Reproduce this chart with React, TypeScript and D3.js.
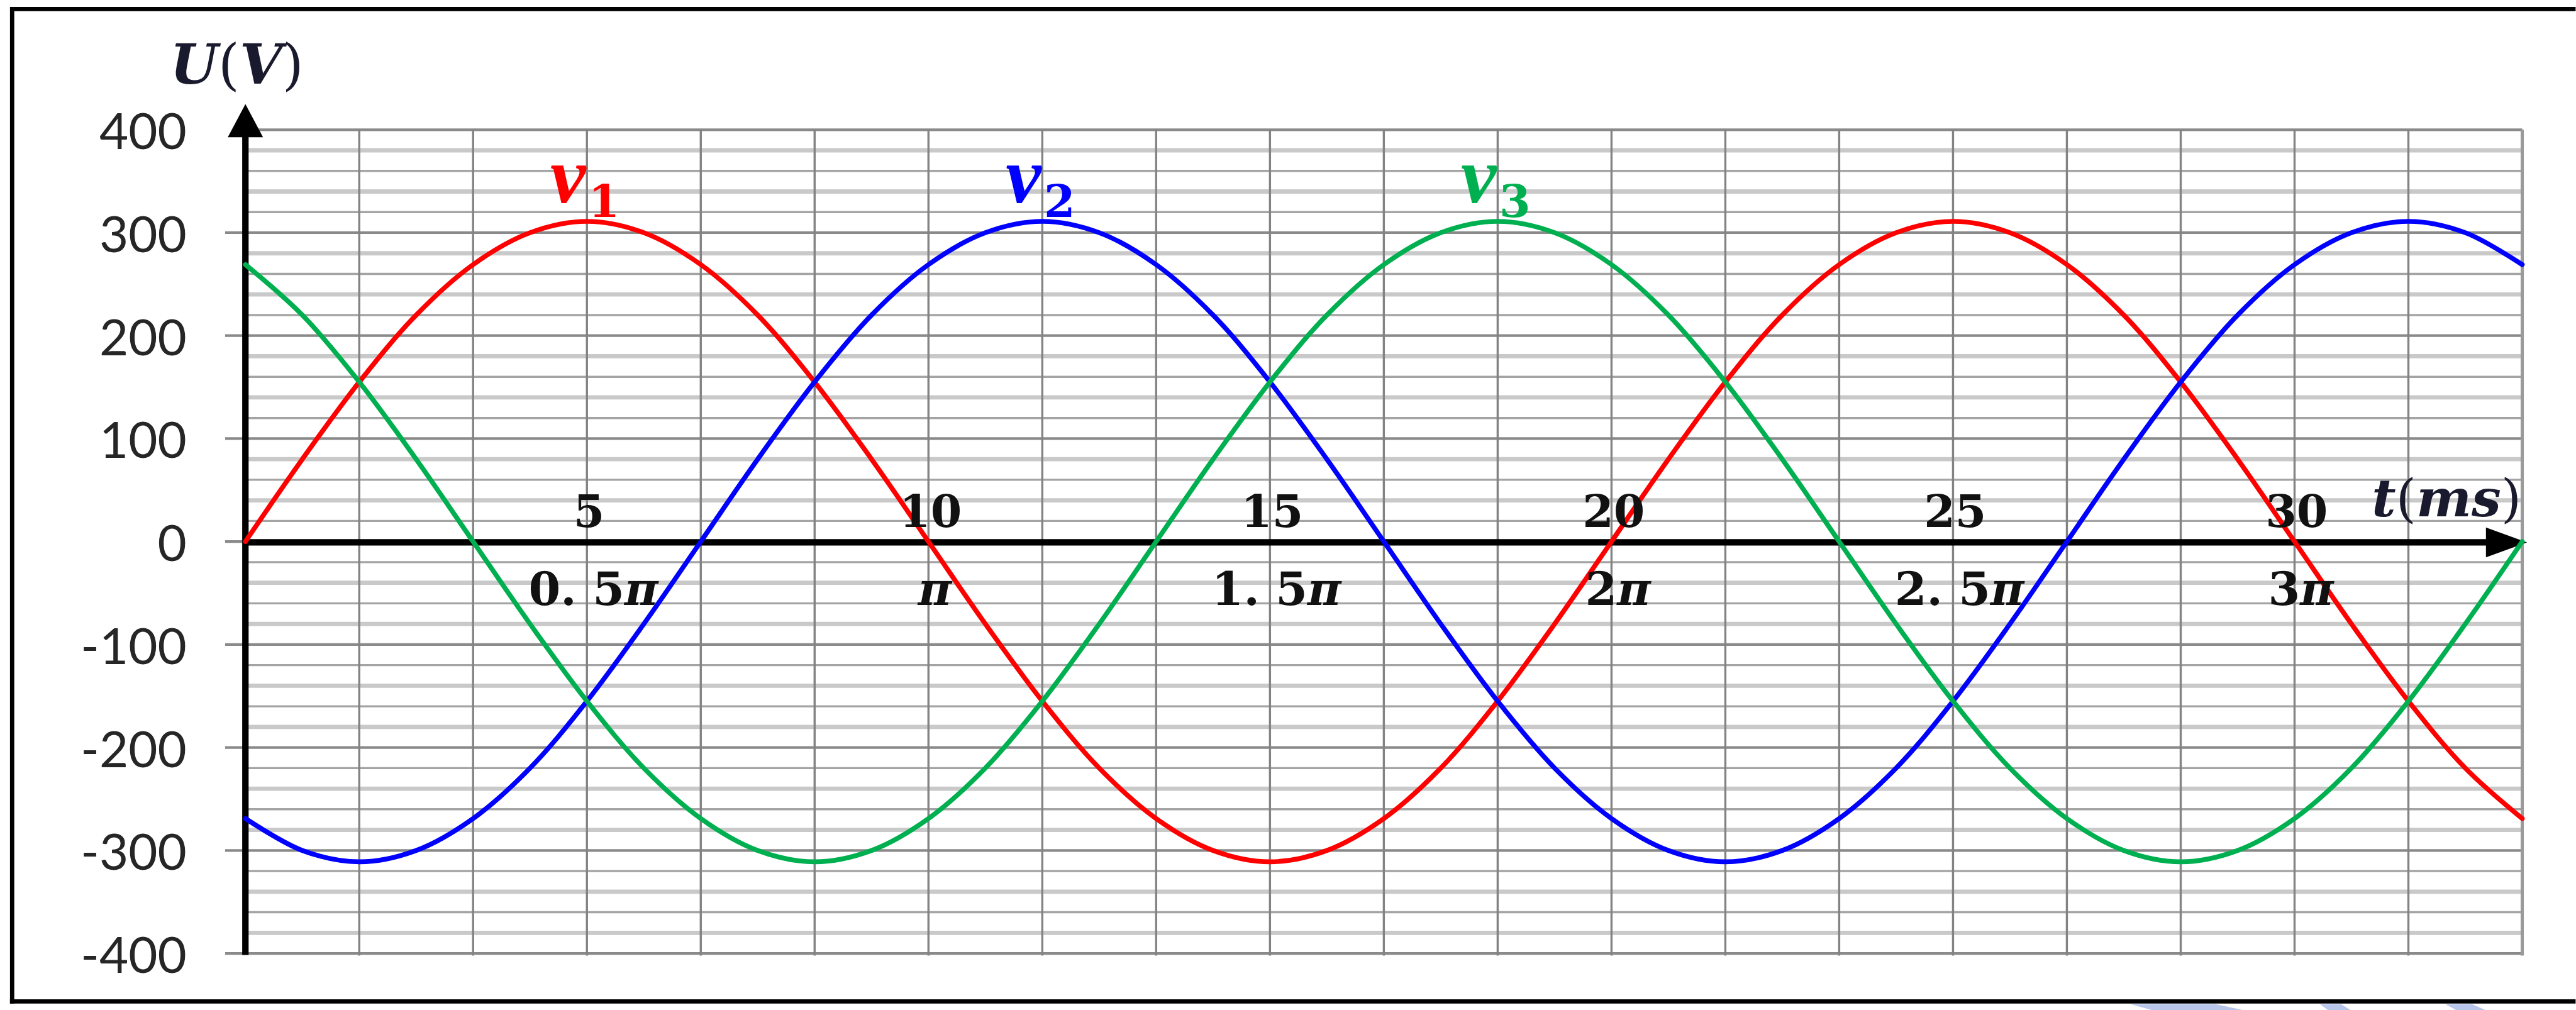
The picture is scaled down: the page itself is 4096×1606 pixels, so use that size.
import React from "react";
import * as d3 from "d3";

// Time samples (ms) for one and two-thirds periods of a 50 Hz supply.
const timeMs = [
  0, 0.833, 1.667, 2.5, 3.333, 4.167, 5, 5.833, 6.667, 7.5, 8.333, 9.167,
  10, 10.833, 11.667, 12.5, 13.333, 14.167, 15, 15.833, 16.667, 17.5, 18.333,
  19.167, 20, 20.833, 21.667, 22.5, 23.333, 24.167, 25, 25.833, 26.667, 27.5,
  28.333, 29.167, 30, 30.833, 31.667, 32.5, 33.333,
];

// Phase voltages (V).
const v1 = [
  0, 80, 155, 220, 269, 300, 311, 300, 269, 220, 155, 80, 0, -80, -155, -220,
  -269, -300, -311, -300, -269, -220, -155, -80, 0, 80, 155, 220, 269, 300,
  311, 300, 269, 220, 155, 80, 0, -80, -155, -220, -269,
];
const v2 = [
  -269, -300, -311, -300, -269, -220, -155, -80, 0, 80, 155, 220, 269, 300,
  311, 300, 269, 220, 155, 80, 0, -80, -155, -220, -269, -300, -311, -300,
  -269, -220, -155, -80, 0, 80, 155, 220, 269, 300, 311, 300, 269,
];
const v3 = [
  269, 220, 155, 80, 0, -80, -155, -220, -269, -300, -311, -300, -269, -220,
  -155, -80, 0, 80, 155, 220, 269, 300, 311, 300, 269, 220, 155, 80, 0, -80,
  -155, -220, -269, -300, -311, -300, -269, -220, -155, -80, 0,
];

const seriesValues = [v1, v2, v3];
const seriesSubscripts = ["1", "2", "3"];
const seriesColors = ["#ff0000", "#0000ff", "#00b050"];

// Axis ticks and labels.
const yTicks = [-400, -300, -200, -100, 0, 100, 200, 300, 400];
const yTickLabels = ["-400", "-300", "-200", "-100", "0", "100", "200", "300", "400"];
const xLabelTimes = [5, 10, 15, 20, 25, 30];
const xTimeLabels = ["5", "10", "15", "20", "25", "30"];
const xPhaseCoefs = ["0. 5", "", "1. 5", "2", "2. 5", "3"];

const W = 4824;
const H = 1892;

const PLOT_L = 459;
const PLOT_R = 4724;
const PLOT_T = 243;
const PLOT_B = 1786;

const sansFont = "Lato, 'Open Sans', sans-serif";
const serifFont = "'DejaVu Serif', serif";
const mathFont = "'Liberation Serif', serif";

export default function App() {
  const x = d3.scaleLinear().domain([0, 100 / 3]).range([PLOT_L, PLOT_R]);
  const y = d3.scaleLinear().domain([-400, 400]).range([PLOT_B, PLOT_T]);

  const line = d3
    .line<number>()
    .x((_, i) => x(timeMs[i]))
    .y((d) => y(d))
    .curve(d3.curveCatmullRom.alpha(0.5));

  // Horizontal grid: major every 100 V, minor every 20 V.
  const minorVals = d3.range(-380, 400, 20).filter((v) => v % 100 !== 0);
  const verticalGrid = d3.range(1, 21).map((i) => (i * 5) / 3);

  const y0 = y(0) + 1.5;

  return (
    <div style={{ position: "fixed", left: 0, top: 0 }}>
      <svg
        width={4096}
        height={1606}
        viewBox={`0 0 ${W} ${H}`}
        style={{ display: "block", background: "#ffffff" }}
      >
        <rect x={0} y={0} width={W} height={H} fill="#ffffff" />

        {/* minor horizontal grid */}
        {minorVals.map((v) => {
          const r = Math.abs(v) % 100;
          const light = r === 40 || r === 80;
          return (
            <line
              key={`mn${v}`}
              x1={PLOT_L}
              x2={PLOT_R}
              y1={y(v)}
              y2={y(v)}
              stroke={light ? "#c9c9c9" : "#a4a4a4"}
              strokeWidth={light ? 8 : 4}
            />
          );
        })}

        {/* major horizontal grid with short ticks left of the axis */}
        {yTicks.map((v) => (
          <line
            key={`mj${v}`}
            x1={v === 400 ? PLOT_L : 421}
            x2={PLOT_R}
            y1={y(v)}
            y2={y(v)}
            stroke="#8a8a8a"
            strokeWidth={5}
          />
        ))}

        {/* vertical grid every 30 degrees */}
        {verticalGrid.map((t, i) => (
          <line
            key={`vg${i}`}
            x1={x(t)}
            x2={x(t)}
            y1={PLOT_T}
            y2={PLOT_B + 4}
            stroke={i === verticalGrid.length - 1 ? "#9a9a9a" : "#838383"}
            strokeWidth={i === verticalGrid.length - 1 ? 6 : 4}
          />
        ))}

        {/* y tick labels */}
        {yTicks.map((v, i) => (
          <text
            key={`yl${v}`}
            x={349}
            y={y(v)}
            textAnchor="end"
            dominantBaseline="central"
            fontFamily={sansFont}
            fontSize={94}
            fill="#262626"
          >
            {yTickLabels[i]}
          </text>
        ))}

        {/* axes */}
        <line x1={PLOT_L} x2={PLOT_L} y1={PLOT_B + 3} y2={250} stroke="#000" strokeWidth={12} />
        <polygon
          points={`${PLOT_L},195 ${PLOT_L - 33},257 ${PLOT_L + 33},257`}
          fill="#000"
        />
        <line x1={PLOT_L} x2={4660} y1={y0} y2={y0} stroke="#000" strokeWidth={12} />
        <polygon
          points={`4733,${y0} 4656,${y0 - 28} 4656,${y0 + 28}`}
          fill="#000"
        />

        {/* voltage curves */}
        {seriesValues.map((vals, s) => (
          <path
            key={`s${s}`}
            d={line(vals) || ""}
            fill="none"
            stroke={seriesColors[s]}
            strokeWidth={9}
            strokeLinejoin="round"
            strokeLinecap="round"
          />
        ))}

        {/* series names placed over each first peak */}
        {seriesValues.map((vals, s) => {
          const peakIdx = vals.indexOf(d3.max(vals) as number);
          const px = x(timeMs[peakIdx]);
          return (
            <text key={`sn${s}`} fill={seriesColors[s]} fontWeight="bold">
              <tspan
                x={px - 2}
                y={379}
                textAnchor="end"
                fontStyle="italic"
                fontFamily={mathFont}
                fontSize={150}
              >
                v
              </tspan>
              <tspan x={px + 3} y={407} textAnchor="start" fontFamily={serifFont} fontSize={84}>
                {seriesSubscripts[s]}
              </tspan>
            </text>
          );
        })}

        {/* time labels above the axis, phase labels below */}
        {xLabelTimes.map((t, i) => (
          <text
            key={`xt${t}`}
            x={x(t) + 4}
            y={987}
            textAnchor="middle"
            fontFamily={serifFont}
            fontWeight="bold"
            fontSize={84}
            fill="#111"
          >
            {xTimeLabels[i]}
          </text>
        ))}
        {xLabelTimes.map((t, i) => (
          <text
            key={`xp${t}`}
            x={x(t) + 12}
            y={1133}
            textAnchor="middle"
            fontFamily={serifFont}
            fontWeight="bold"
            fontSize={86}
            fill="#111"
          >
            {xPhaseCoefs[i]}
            <tspan fontStyle="italic">π</tspan>
          </text>
        ))}

        {/* axis titles */}
        <text x={318} y={157} fontFamily={serifFont} fontSize={103} fill="#1a1a2e">
          <tspan fontWeight="bold" fontStyle="italic">U</tspan>
          <tspan>(</tspan>
          <tspan fontWeight="bold" fontStyle="italic">V</tspan>
          <tspan>)</tspan>
        </text>
        <text x={4442} y={967} fontFamily={serifFont} fontSize={98} fill="#1a1a2e">
          <tspan fontWeight="bold" fontStyle="italic">t</tspan>
          <tspan>(</tspan>
          <tspan fontWeight="bold" fontStyle="italic">ms</tspan>
          <tspan>)</tspan>
        </text>

        {/* faint marks along the lower edge */}
        <polygon points="3990,1881 4150,1881 4200,1892 4030,1892" fill="#b7c6ea" />
        <polygon points="4345,1881 4385,1881 4402,1892 4360,1892" fill="#b7c6ea" />
        <polygon points="4580,1881 4630,1881 4655,1892 4600,1892" fill="#b7c6ea" />

        {/* outer frame (top, left, bottom) */}
        <line x1={22} x2={W} y1={17} y2={17} stroke="#000" strokeWidth={8} />
        <line x1={22} x2={22} y1={13} y2={1880} stroke="#000" strokeWidth={8} />
        <line x1={18} x2={W} y1={1876} y2={1876} stroke="#000" strokeWidth={8} />
      </svg>
    </div>
  );
}
